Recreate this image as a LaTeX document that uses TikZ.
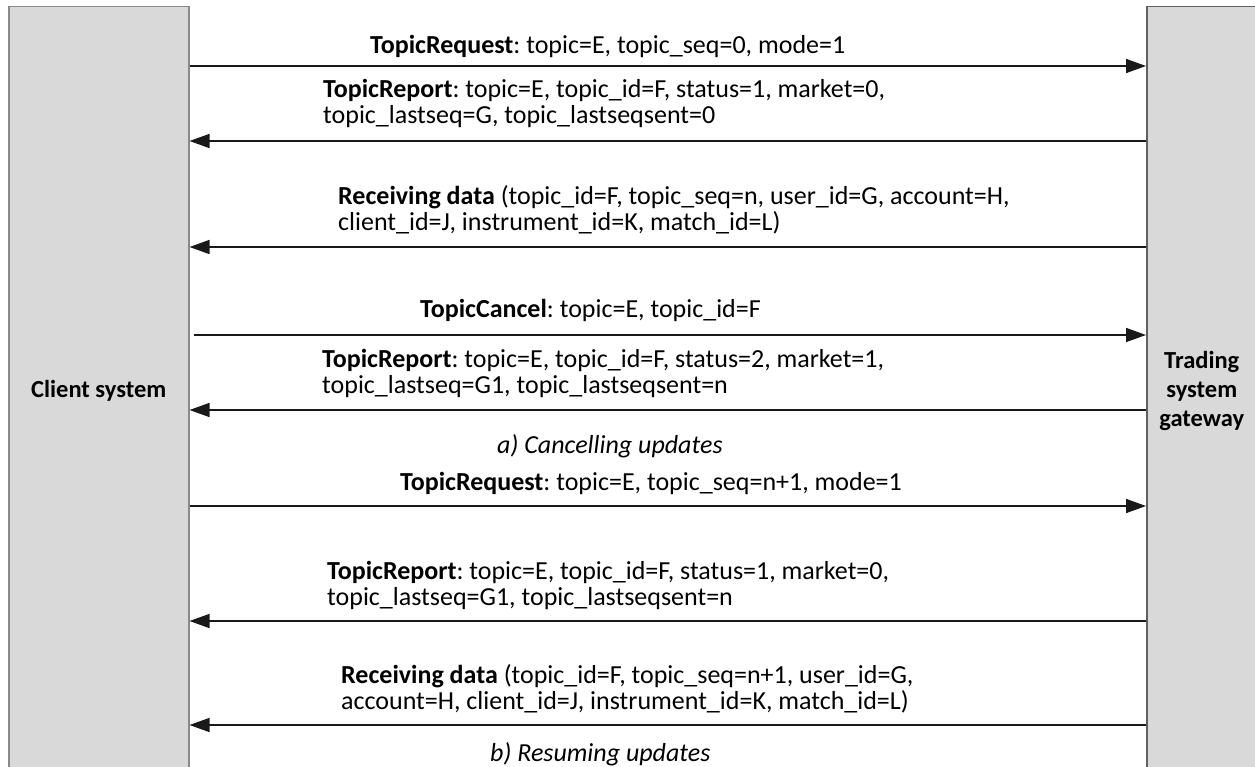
\documentclass[tikz,border=0pt]{standalone}
\usepackage{fontspec}
\setmainfont{Carlito}
\usetikzlibrary{arrows.meta}
\definecolor{lanefill}{HTML}{D9D9D9}
\definecolor{laneedgeL}{HTML}{8A8A8A}
\definecolor{laneedgeR}{HTML}{606060}
\tikzset{
  lane/.style={rectangle, fill=lanefill, line width=1.5pt, inner sep=0pt, anchor=north west, font=\fontsize{24.5}{29}\selectfont\bfseries, align=center},
  msg/.style={line width=1.5pt, draw=black!90, -{Triangle[length=20pt,width=14pt]}},
  lbl/.style={inner sep=0pt, anchor=base west, align=left, font=\fontsize{26}{26}\selectfont\frenchspacing},
  captxt/.style={inner sep=0pt, anchor=base west, font=\fontsize{26}{26}\selectfont\itshape},
}
\begin{document}
\begin{tikzpicture}[x=1pt,y=-1pt]
\useasboundingbox (0,0) rectangle (1255,767);
\clip (0,0) rectangle (1255,767);
\node[lane, draw=laneedgeL, minimum width=180pt, minimum height=769pt] (client) at (8,6) {Client system};
\node[lane, draw=laneedgeR, minimum width=110pt, minimum height=769pt, text width=108pt] (gateway) at (1146,6) {Trading\\system\\gateway};

% a) cancelling
\node[lbl] (m1) at (370,53.5) {\textbf{TopicRequest}: topic=E, topic\_seq=0, mode=1};
\draw[msg] (client.east |- 0,66) -- (gateway.west |- 0,66);

\node[lbl] (m2) at (323,124) {\textbf{TopicReport}: topic=E, topic\_id=F, status=1, market=0,\\topic\_lastseq=G, topic\_lastseqsent=0};
\draw[msg] (gateway.west |- 0,141) -- (client.east |- 0,141);

\node[lbl] (m3) at (338,230.5) {\textbf{Receiving data} (topic\_id=F, topic\_seq=n, user\_id=G, account=H,\\client\_id=J, instrument\_id=K, match\_id=L)};
\draw[msg] (gateway.west |- 0,247) -- (client.east |- 0,247);

\node[lbl] (m4) at (420,317) {\textbf{TopicCancel}: topic=E, topic\_id=F};
\coordinate (c4) at ([xshift=4pt]client.east |- 0,335);
\draw[msg] (c4) -- (gateway.west |- 0,335);

\node[lbl] (m5) at (322,393) {\textbf{TopicReport}: topic=E, topic\_id=F, status=2, market=1,\\topic\_lastseq=G1, topic\_lastseqsent=n};
\draw[msg] (gateway.west |- 0,410) -- (client.east |- 0,410);

\node[captxt] (capa) at (497,453) {a) Cancelling updates};

% b) resuming
\node[lbl] (m6) at (400,490.5) {\textbf{TopicRequest}: topic=E, topic\_seq=n+1, mode=1};
\draw[msg] (client.east |- 0,506) -- (gateway.west |- 0,506);

\node[lbl] (m7) at (327,605.5) {\textbf{TopicReport}: topic=E, topic\_id=F, status=1, market=0,\\topic\_lastseq=G1, topic\_lastseqsent=n};
\draw[msg] (gateway.west |- 0,621) -- (client.east |- 0,621);

\node[lbl] (m8) at (341,709.5) {\textbf{Receiving data} (topic\_id=F, topic\_seq=n+1, user\_id=G,\\account=H, client\_id=J, instrument\_id=K, match\_id=L)};
\draw[msg] (gateway.west |- 0,725) -- (client.east |- 0,725);

\node[captxt] (capb) at (490,761) {b) Resuming updates};
\end{tikzpicture}
\end{document}
